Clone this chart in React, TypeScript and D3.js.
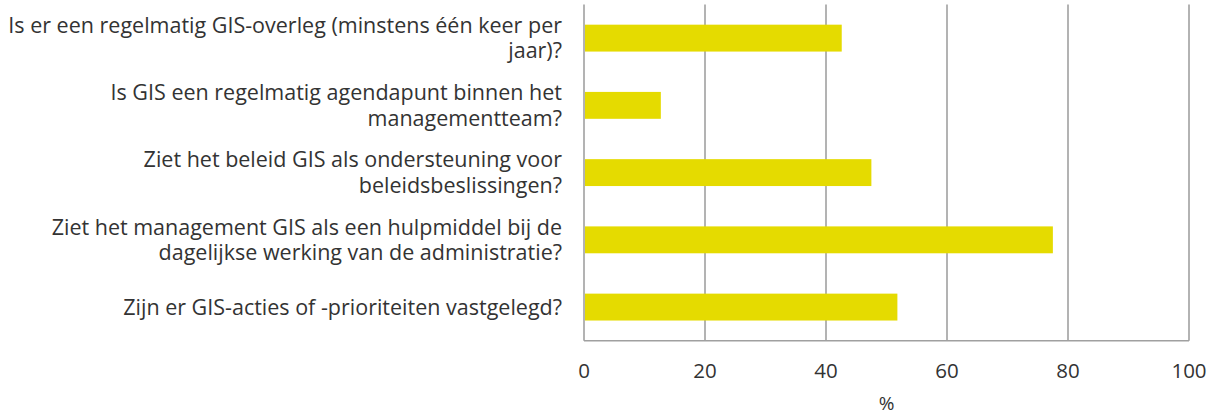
import React from "react";
import * as d3 from "d3";

const categories: string[][] = [
  ["Is er een regelmatig GIS-overleg (minstens één keer per", "jaar)?"],
  ["Is GIS een regelmatig agendapunt binnen het", "managementteam?"],
  ["Ziet het beleid GIS als ondersteuning voor", "beleidsbeslissingen?"],
  ["Ziet het management GIS als een hulpmiddel bij de", "dagelijkse werking van de administratie?"],
  ["Zijn er GIS-acties of -prioriteiten vastgelegd?"],
];
const values = [42.6, 12.7, 47.5, 77.5, 51.8];
const xTicks = [0, 20, 40, 60, 80, 100];

const width = 1215;
const height = 417;
const margin = { top: 4.5, right: 26, bottom: 76.3, left: 584 };
const font = "'Open Sans', sans-serif";
const textColor = "#333333";
const gridColor = "#a0a0a0";
const barColor = "#e5db00";

const App = () => {
  const x = d3
    .scaleLinear()
    .domain([0, 100])
    .range([margin.left, width - margin.right]);

  const y = d3
    .scaleBand<number>()
    .domain(d3.range(categories.length))
    .range([margin.top, height - margin.bottom])
    .paddingInner(0.6)
    .paddingOuter(0.3);

  const lineHeight = 25.5;

  return (
    <svg
      width={width}
      height={height}
      style={{ position: "absolute", left: 0, top: 0, background: "#fff" }}
    >
      {/* grid lines */}
      {xTicks.map((t) => (
        <line
          key={"g" + t}
          x1={x(t)}
          x2={x(t)}
          y1={margin.top}
          y2={height - margin.bottom}
          stroke={gridColor}
          strokeWidth={1.6}
        />
      ))}
      {/* bottom axis line */}
      <line
        x1={x(0)}
        x2={x(100)}
        y1={height - margin.bottom}
        y2={height - margin.bottom}
        stroke={gridColor}
        strokeWidth={1.6}
      />

      {/* bars */}
      {values.map((v, i) => (
        <rect
          key={"b" + i}
          x={x(0) + 1}
          y={y(i)}
          width={x(v) - x(0) - 1}
          height={y.bandwidth()}
          fill={barColor}
        />
      ))}

      {/* category labels */}
      {categories.map((lines, i) => {
        const cy = (y(i) ?? 0) + y.bandwidth() / 2;
        const start = cy - ((lines.length - 1) * lineHeight) / 2;
        return (
          <text
            key={"c" + i}
            textAnchor="end"
            fontFamily={font}
            fontSize={21.5}
            fill={textColor}
          >
            {lines.map((l, j) => (
              <tspan key={j} x={562} y={start + j * lineHeight} dy="0.35em">
                {l}
              </tspan>
            ))}
          </text>
        );
      })}

      {/* tick labels */}
      {xTicks.map((t) => (
        <text
          key={"t" + t}
          x={x(t)}
          y={371}
          dy="0.35em"
          textAnchor="middle"
          fontFamily={font}
          fontSize={20.5}
          fill={textColor}
        >
          {t}
        </text>
      ))}

      {/* axis title */}
      <text
        x={(x(0) + x(100)) / 2}
        y={403}
        dy="0.35em"
        textAnchor="middle"
        fontFamily={font}
        fontSize={19}
        fill={textColor}
      >
        %
      </text>
    </svg>
  );
};

export default App;
